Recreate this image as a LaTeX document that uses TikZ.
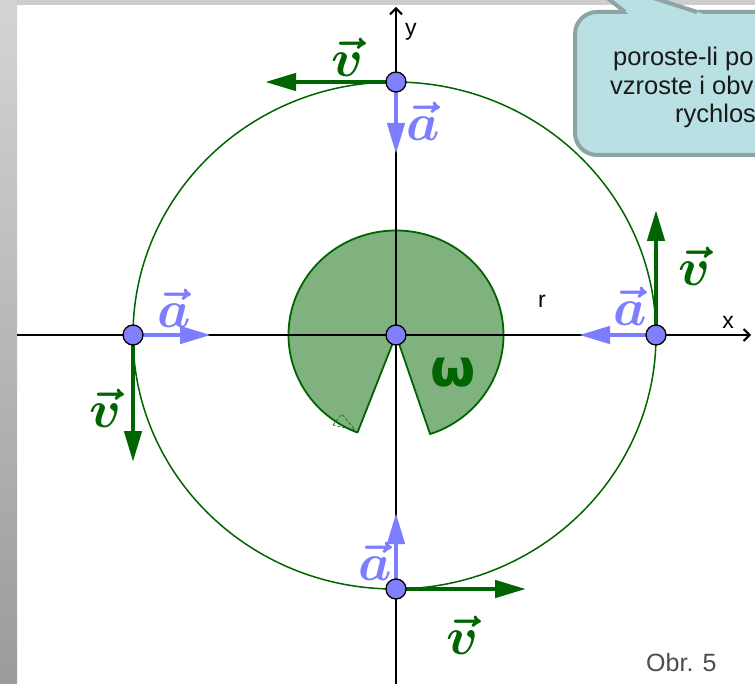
\documentclass[tikz,border=0pt]{standalone}
\usepackage{amsmath}
\usepackage{graphicx}
\usepackage{fontspec}
\setmainfont{Liberation Sans}
\newfontfamily\djs{DejaVu Sans}
\usetikzlibrary{arrows.meta}
\definecolor{vgreen}{RGB}{0,100,0}
\definecolor{ablue}{RGB}{125,125,255}
\definecolor{ptfill}{RGB}{128,128,255}
\definecolor{secfill}{RGB}{127,178,127}
\definecolor{callfill}{RGB}{185,224,227}
\definecolor{callborder}{RGB}{140,164,166}
\definecolor{obrgray}{RGB}{77,77,77}
\definecolor{striptop}{RGB}{212,212,212}
\definecolor{stripbot}{RGB}{155,155,155}
\definecolor{topgray}{RGB}{205,205,205}
\newcommand{\bigvec}[1]{\scalebox{5.3}{$\boldsymbol{\vec{#1}}$}}
\tikzset{
  axis/.style={draw=black,line width=2pt},
  varrow/.style={draw=vgreen,line width=4.5pt,-{Triangle[length=31pt,width=17pt]}},
  aarrow/.style={draw=ablue,line width=4.5pt,-{Triangle[length=31pt,width=17pt]}},
  pt/.style={circle,fill=ptfill,draw=black,line width=1.3pt,minimum size=20pt,inner sep=0pt},
  vlab/.style={text=vgreen,inner sep=0pt},
  alab/.style={text=ablue,inner sep=0pt},
  axlab/.style={font=\fontsize{23}{23}\selectfont,inner sep=0pt},
  calltext/.style={font=\fontsize{25.5}{25.5}\selectfont,text=black!90,inner sep=0pt},
  sector/.style={fill=secfill,draw=vgreen,line width=1.8pt,line join=round},
  bigcircle/.style={draw=vgreen,line width=1.5pt},
}
\begin{document}
\begin{tikzpicture}[x=1pt,y=-1pt]
\useasboundingbox (0,0) rectangle (755,684);
\clip (0,0) rectangle (755,684);
% background
\fill[white] (0,0) rectangle (755,684);
\shade[top color=striptop,bottom color=stripbot] (0,0) rectangle (17,684);
\fill[topgray] (17,0) rectangle (755,5.5);
% centre
\coordinate (O) at (396,335);
% sector (omega)
\draw[sector] (O) -- ++(71.5:107.5 and 104.5) arc[start angle=71.5,end angle=-249,x radius=107.5,y radius=104.5] -- cycle;
\draw[vgreen,line width=0.6pt,densely dashed] (333,425) -- (342,414) -- (355,430) -- cycle;
% big circle
\draw[bigcircle] (394.5,335.5) ellipse[x radius=261.5,y radius=253.5];
% axes
\coordinate (xL) at (17,335);
\coordinate (xR) at (751,335);
\coordinate (yT) at (396,7);
\coordinate (yB) at (396,690);
\draw[axis,-{Straight Barb[length=6pt,width=12pt]}] (xL) -- (xR);
\draw[axis,-{Straight Barb[length=6pt,width=12pt]}] (yB) -- (yT);
% point positions
\coordinate (pT) at (396,82);
\coordinate (pL) at (133,335);
\coordinate (pR) at (656,335);
\coordinate (pB) at (396,589);
% arrow ends
\coordinate (vT) at (265,82);
\coordinate (aT) at (396,154);
\coordinate (aL) at (211,335);
\coordinate (vL) at (133,462);
\coordinate (vR) at (656,210);
\coordinate (aR) at (579,335);
\coordinate (aB) at (396,513);
\coordinate (vB) at (526,589);
\draw[varrow] (pT) -- (vT);
\draw[aarrow] (pT) -- (aT);
\draw[aarrow] (pL) -- (aL);
\draw[varrow] (pL) -- (vL);
\draw[varrow] (pR) -- (vR);
\draw[aarrow] (pR) -- (aR);
\draw[aarrow] (pB) -- (aB);
\draw[varrow] (pB) -- (vB);
% points
\node[pt] (PT) at (pT) {};
\node[pt] (PL) at (pL) {};
\node[pt] (PR) at (pR) {};
\node[pt] (PB) at (pB) {};
\node[pt] (PO) at (O) {};
% vector labels
\node[vlab] (lvT) at (347,57) {\bigvec{v}};
\node[alab] (laT) at (423,121) {\bigvec{a}};
\node[alab] (laL) at (174,308) {\bigvec{a}};
\node[vlab] (lvL) at (105,408) {\bigvec{v}};
\node[vlab] (lvR) at (694,266) {\bigvec{v}};
\node[alab] (laR) at (630,306) {\bigvec{a}};
\node[alab] (laB) at (375,561) {\bigvec{a}};
\node[vlab] (lvB) at (462,635) {\bigvec{v}};
% omega
\node[text=vgreen,inner sep=0pt,font=\djs\bfseries\fontsize{52}{52}\selectfont] (om) at (453,373) {ω};
% axis labels
\node[axlab,anchor=center] (lx) at (728,322) {x};
\node[axlab,anchor=base west] (ly) at (405,36) {y};
\node[axlab,anchor=base west] (lr) at (538,308) {r};
% figure label
\node[font=\fontsize{25}{25}\selectfont,text=obrgray,anchor=base west,inner sep=0pt] (obr) at (646,671) {Obr. 5};
% callout
\draw[fill=callfill,draw=callborder,line width=4pt,rounded corners=22pt] (575,12) rectangle (830,155);
\fill[callfill] (628.5,14) -- (576,-27) -- (703.5,14) -- cycle;
\draw[callborder,line width=4pt,line join=round] (625,12) -- (576,-27) -- (697,12);
\node[calltext,anchor=base west] (c1) at (613,66) {poroste-li po};
\node[calltext,anchor=base west] (c2) at (610,95) {vzroste i obv};
\node[calltext,anchor=base west] (c3) at (675,123) {rychlos};
\end{tikzpicture}
\end{document}
